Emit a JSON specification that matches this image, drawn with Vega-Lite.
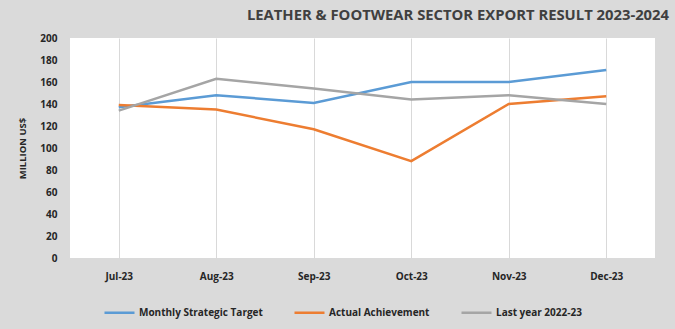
{
  "$schema": "https://vega.github.io/schema/vega-lite/v6.json",
  "autosize": {"type": "none"},
  "width": 585,
  "height": 220,
  "padding": {"left": 70, "top": 38, "right": 20, "bottom": 71},
  "background": "#dadada",
  "title": {
    "text": "LEATHER & FOOTWEAR SECTOR EXPORT RESULT 2023-2024",
    "anchor": "end",
    "dx": 14,
    "offset": 10,
    "font": "Open Sans",
    "fontSize": 14.8,
    "fontWeight": "bold",
    "color": "#404040"
  },
  "config": {
    "view": {"fill": "#ffffff", "stroke": null},
    "font": "Open Sans"
  },
  "data": {
    "values": [
      {"month": "Jul-23", "series": "Monthly Strategic Target", "value": 137},
      {"month": "Aug-23", "series": "Monthly Strategic Target", "value": 148},
      {"month": "Sep-23", "series": "Monthly Strategic Target", "value": 141},
      {"month": "Oct-23", "series": "Monthly Strategic Target", "value": 160},
      {"month": "Nov-23", "series": "Monthly Strategic Target", "value": 160},
      {"month": "Dec-23", "series": "Monthly Strategic Target", "value": 171},
      {"month": "Jul-23", "series": "Actual Achievement", "value": 139},
      {"month": "Aug-23", "series": "Actual Achievement", "value": 135},
      {"month": "Sep-23", "series": "Actual Achievement", "value": 117},
      {"month": "Oct-23", "series": "Actual Achievement", "value": 88},
      {"month": "Nov-23", "series": "Actual Achievement", "value": 140},
      {"month": "Dec-23", "series": "Actual Achievement", "value": 147},
      {"month": "Jul-23", "series": "Last year 2022-23", "value": 134},
      {"month": "Aug-23", "series": "Last year 2022-23", "value": 163},
      {"month": "Sep-23", "series": "Last year 2022-23", "value": 154},
      {"month": "Oct-23", "series": "Last year 2022-23", "value": 144},
      {"month": "Nov-23", "series": "Last year 2022-23", "value": 148},
      {"month": "Dec-23", "series": "Last year 2022-23", "value": 140}
    ]
  },
  "mark": {"type": "line", "strokeWidth": 2.5},
  "encoding": {
    "x": {
      "field": "month",
      "type": "ordinal",
      "sort": ["Jul-23", "Aug-23", "Sep-23", "Oct-23", "Nov-23", "Dec-23"],
      "scale": {"type": "point", "padding": 0.5},
      "axis": {
        "title": null,
        "labelAngle": 0,
        "labelFontWeight": "bold",
        "labelFontSize": 10,
        "labelColor": "#262626",
        "labelPadding": 13,
        "domain": false,
        "ticks": false,
        "grid": true,
        "gridColor": "#d9d9d9",
        "gridWidth": 1
      }
    },
    "y": {
      "field": "value",
      "type": "quantitative",
      "scale": {"domain": [0, 200]},
      "axis": {
        "title": "MILLION US$",
        "titleFontSize": 9.5,
        "titleFontWeight": "bold",
        "titleColor": "#262626",
        "titlePadding": 12,
        "values": [0, 20, 40, 60, 80, 100, 120, 140, 160, 180, 200],
        "labelFontWeight": "bold",
        "labelFontSize": 10,
        "labelColor": "#262626",
        "labelPadding": 13,
        "domain": false,
        "ticks": false,
        "grid": false
      }
    },
    "color": {
      "field": "series",
      "type": "nominal",
      "scale": {
        "domain": ["Monthly Strategic Target", "Actual Achievement", "Last year 2022-23"],
        "range": ["#5b9bd5", "#ed7d31", "#a5a5a5"]
      },
      "legend": {
        "orient": "none",
        "legendX": 33,
        "legendY": 258,
        "direction": "horizontal",
        "title": null,
        "labelFontWeight": "bold",
        "labelFontSize": 10,
        "labelColor": "#262626",
        "labelOffset": 3,
        "symbolType": "stroke",
        "symbolSize": 900,
        "symbolStrokeWidth": 2.5,
        "columnPadding": 26
      }
    }
  }
}
